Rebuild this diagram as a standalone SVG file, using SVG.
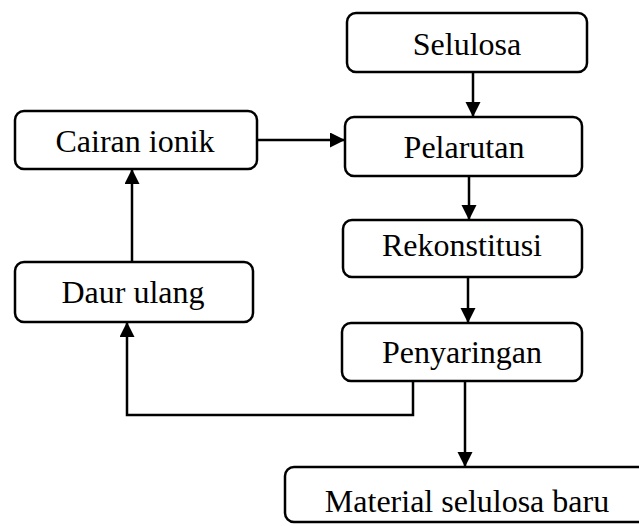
<svg xmlns="http://www.w3.org/2000/svg" width="639" height="526" viewBox="0 0 639 526">
<style>
  .box { fill: #ffffff; stroke: #000000; stroke-width: 2.5; }
  .lbl { font-family: "Liberation Serif", "Times New Roman", serif; font-size: 32px; fill: #000000; text-anchor: middle; }
  .con { fill: none; stroke: #000000; stroke-width: 2.5; marker-end: url(#arr); }
</style>
<defs>
  <marker id="arr" markerUnits="userSpaceOnUse" markerWidth="16" markerHeight="16" refX="15" refY="7.5" orient="auto" viewBox="0 0 16 16">
    <path d="M0,0 L15,7.5 L0,15 Z" fill="#000000"/>
  </marker>
</defs>
<rect width="639" height="526" fill="#ffffff"/>
<g id="connectors">
  <line class="con" x1="473" y1="72" x2="473" y2="117"/>
  <line class="con" x1="469" y1="176" x2="469" y2="220"/>
  <line class="con" x1="468" y1="277" x2="468" y2="323"/>
  <line class="con" x1="465" y1="381" x2="465" y2="467"/>
  <line class="con" x1="257" y1="140" x2="345" y2="140"/>
  <line class="con" x1="132" y1="262" x2="132" y2="169"/>
  <polyline class="con" points="413,381 413,415 127,415 127,322"/>
</g>
<g id="selulosa">
  <rect class="box" x="347" y="13" width="240" height="59" rx="9"/>
  <text class="lbl" x="467" y="55">Selulosa</text>
</g>
<g id="pelarutan">
  <rect class="box" x="345" y="117" width="237" height="59" rx="9"/>
  <text class="lbl" x="464" y="158">Pelarutan</text>
</g>
<g id="rekonstitusi">
  <rect class="box" x="343" y="220" width="239" height="57" rx="9"/>
  <text class="lbl" x="462" y="256">Rekonstitusi</text>
</g>
<g id="penyaringan">
  <rect class="box" x="342" y="323" width="240" height="58" rx="9"/>
  <text class="lbl" x="462" y="363">Penyaringan</text>
</g>
<g id="cairan-ionik">
  <rect class="box" x="15" y="111" width="242" height="58" rx="9"/>
  <text class="lbl" x="135" y="152">Cairan ionik</text>
</g>
<g id="daur-ulang">
  <rect class="box" x="15" y="262" width="238" height="60" rx="9"/>
  <text class="lbl" x="133" y="303">Daur ulang</text>
</g>
<g id="material-selulosa-baru">
  <rect class="box" x="285" y="467" width="380" height="55" rx="9"/>
  <text class="lbl" x="467" y="512">Material selulosa baru</text>
</g>
</svg>
